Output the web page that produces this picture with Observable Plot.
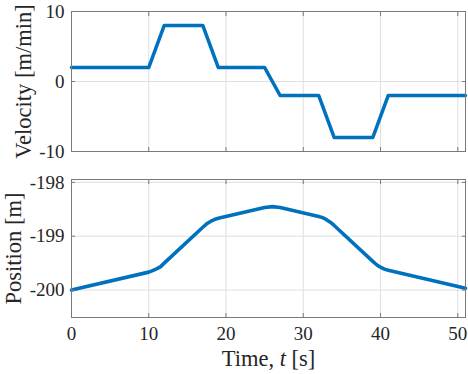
<!DOCTYPE html>
<html><head><meta charset="utf-8">
<script src="https://cdn.jsdelivr.net/npm/d3@7"></script>
<script src="https://cdn.jsdelivr.net/npm/@observablehq/plot@0.6"></script>
<style>
body{margin:0;background:#fff;}
#chart{width:468px;}
#chart svg{display:block;font-family:'Liberation Serif','Times New Roman',serif !important;}
#chart svg text{font-family:'Liberation Serif','Times New Roman',serif !important;}
</style></head><body><div id="chart"></div>
<script>
// Velocity [m/min] vs time [s]
const velTime  = [0, 10, 12, 17, 19, 25, 27, 32, 34, 39, 41, 51];
const velValue = [2, 2, 8, 8, 2, 2, -2, -2, -8, -8, -2, -2];
// Position [m] vs time [s]
const posTime  = [0, 10, 10.5, 11, 11.5, 12, 17, 17.5, 18, 18.5, 19, 25, 26, 27, 32, 32.5, 33, 33.5, 34, 39, 39.5, 40, 40.5, 41, 51];
const posValue = [-200, -199.667, -199.640, -199.608, -199.569, -199.5, -198.833, -198.770, -198.725, -198.689, -198.667, -198.467, -198.45, -198.467, -198.633, -198.654, -198.692, -198.740, -198.8, -199.467, -199.530, -199.575, -199.611, -199.633, -199.967];
const xTicks = [0, 10, 20, 30, 40, 50];
const velTicks = [-10, 0, 10];
const posTicks = [-200, -199, -198];
const xLabel = "Time, t [s]";
const velLabel = "Velocity [m/min]";
const posLabel = "Position [m]";

const velData = velTime.map((t, i) => ({t, v: velValue[i]}));
const posData = posTime.map((t, i) => ({t, v: posValue[i]}));

const FONT = "Liberation Serif";
const TXT = "#262626";
const GRID = "#dedede";
const FRAME = "#7a7a7a";
const BLUE = "#0072BD";
const fmt = d => String(d);

function panel({data, yDomain, yTicks, yLabel, height, marginTop, marginBottom, labelDx, showX}) {
  const marks = [
    Plot.gridX(xTicks, {stroke: GRID, strokeOpacity: 1}),
    Plot.gridY(yTicks, {stroke: GRID, strokeOpacity: 1}),
    Plot.line(data, {x: "t", y: "v", stroke: BLUE, strokeWidth: 3.6}),
    Plot.frame({stroke: FRAME}),
    Plot.axisY(yTicks, {anchor: "left", tickSize: 0, tickPadding: 7, label: null, fill: TXT, fontSize: 19, fontFamily: FONT, tickFormat: fmt}),
    Plot.axisY(yTicks, {anchor: "left", tickSize: -4, fill: null, label: null, stroke: FRAME}),
    Plot.axisY(yTicks, {anchor: "right", tickSize: -4, fill: null, label: null, stroke: FRAME}),
    Plot.axisX(xTicks, {anchor: "bottom", tickSize: -4, fill: null, label: null, stroke: FRAME}),
    Plot.axisX(xTicks, {anchor: "top", tickSize: -4, fill: null, label: null, stroke: FRAME}),
    Plot.text([yLabel], {frameAnchor: "left", text: d => d, rotate: -90, dx: labelDx, textAnchor: "middle", lineAnchor: "middle", fontSize: 22.5, fontFamily: FONT, fill: TXT})
  ];
  if (showX) {
    marks.push(Plot.axisX(xTicks, {anchor: "bottom", tickSize: 0, tickPadding: 9, label: null, fill: TXT, fontSize: 19, fontFamily: FONT, tickFormat: fmt}));
    marks.push(Plot.text([xLabel], {frameAnchor: "bottom", text: d => d, dy: 41, textAnchor: "middle", lineAnchor: "middle", fontSize: 22.5, fontFamily: FONT, fill: TXT}));
  }
  return Plot.plot({
    width: 468,
    height,
    marginLeft: 71,
    marginRight: 3,
    marginTop,
    marginBottom,
    style: {fontSize: "18px", color: TXT, background: "#fff", overflow: "visible"},
    x: {domain: [0, 51]},
    y: {domain: yDomain},
    marks
  });
}

const velPlot = panel({data: velData, yDomain: [-10, 10], yTicks: velTicks, yLabel: velLabel, height: 165, marginTop: 11, marginBottom: 14, labelDx: -48, showX: false});
const posPlot = panel({data: posData, yDomain: [-200.51, -197.946], yTicks: posTicks, yLabel: posLabel, height: 209, marginTop: 14, marginBottom: 57, labelDx: -58, showX: true});

const host = document.getElementById("chart");
host.appendChild(velPlot);
host.appendChild(posPlot);

// italic "t" in the x label
posPlot.querySelectorAll("text").forEach(el => {
  if (el.textContent === xLabel) {
    const parts = ["Time, ", "t", " [s]"];
    el.textContent = "";
    parts.forEach((p, i) => {
      const ts = document.createElementNS("http://www.w3.org/2000/svg", "tspan");
      ts.textContent = p;
      if (i === 1) ts.setAttribute("font-style", "italic");
      el.appendChild(ts);
    });
  }
});
</script></body></html>
